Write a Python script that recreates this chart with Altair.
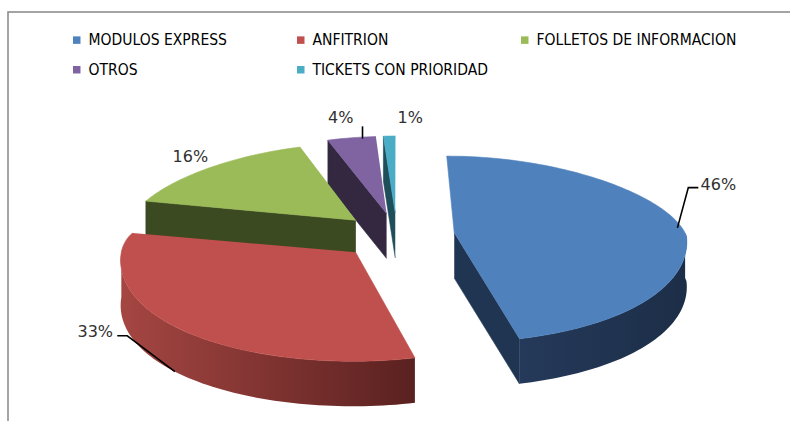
import math
import altair as alt
import pandas as pd

# ---------------- data ----------------
categories = ["MODULOS EXPRESS", "ANFITRION", "FOLLETOS DE INFORMACION", "OTROS", "TICKETS CON PRIORIDAD"]
percent = [46, 33, 16, 4, 1]
label_text = ["46%", "33%", "16%", "4%", "1%"]

# ---------------- styles ----------------
top_colors = ["#4F81BD", "#C0504D", "#9BBB59", "#8064A2", "#4BACC6"]
dark_colors = ["#1F3552", "#8E3B38", "#3C4A22", "#33283F", "#1F4E5B"]
wall_gradients = {
    0: ("#25395A", "#1C2E47"),
    1: ("#A54642", "#5A2120"),
}

# ---------------- layout (pixels) ----------------
CX, CY = 397, 236
RX, RY_BACK, RY_FRONT, RY_EXPLODE = 232, 77, 109, 92
DEPTH = 45
EXPLODE = 0.25
PERSP_BACK, PERSP_FRONT = 0.0017, 0.0006
label_angle = [61, 237, 319, 351, 3]
label_k = [1.3, 1.34, 1.08, 1.25, 1.235]
# leader: (rim angle, depth fraction, radial factor) or None
leaders = [(86, 0.0, 0.98), (227, 1.0, 1.0), None, (352.3, 0.0, 0.98), None]
draw_order = [4, 3, 2, 0, 1]  # back to front

W, H = 790, 421


def ry(a):
    return RY_BACK if math.cos(math.radians(a)) > 0 else RY_FRONT


def persp(x, y):
    if y < CY:
        s = 1 - PERSP_BACK * (CY - y)
    else:
        s = 1 + PERSP_FRONT * (y - CY)
    return CX + (x - CX) * s


def rim(apex, a, z=0.0, k=1.0, p=True):
    r = math.radians(a)
    x = apex[0] + k * RX * math.sin(r)
    y = apex[1] - k * math.cos(r) * ry(a)
    if p:
        x = persp(x, y)
    return (x, y + z)


def arc_pts(apex, a1, a2, z=0.0):
    n = max(2, int(abs(a2 - a1) / 1.5) + 2)
    return [rim(apex, a1 + (a2 - a1) * t / (n - 1), z) for t in range(n)]


total = sum(percent)
starts, ends = [], []
acc = 0.0
for v in percent:
    starts.append(acc)
    acc += v / total * 360.0
    ends.append(acc)

apexes = []
for s, e in zip(starts, ends):
    m = math.radians((s + e) / 2)
    apexes.append((CX + EXPLODE * RX * math.sin(m), CY - EXPLODE * RY_EXPLODE * math.cos(m)))

x_enc = alt.X("x:Q", scale=alt.Scale(domain=[0, W], nice=False, zero=False), axis=None)
y_enc = alt.Y("y:Q", scale=alt.Scale(domain=[0, H], nice=False, zero=False, reverse=True), axis=None)


def poly_layer(points, fill):
    df = pd.DataFrame({"i": list(range(len(points))),
                       "x": [p[0] for p in points],
                       "y": [p[1] for p in points]})
    kw = dict(filled=True, fill=fill, strokeWidth=0)
    if isinstance(fill, str):
        kw.update(stroke=fill, strokeWidth=0.6)
    return alt.Chart(df).mark_line(**kw).encode(x=x_enc, y=y_enc, order=alt.Order("i:Q"))


layers = []

# frame
frame = alt.Chart(pd.DataFrame({"a": [0]})).mark_rect(
    fillOpacity=0, stroke="#868686", strokeWidth=1.5
).encode(x=alt.value(8), x2=alt.value(820), y=alt.value(12), y2=alt.value(450))
layers.append(frame)

for idx in draw_order:
    a1, a2, A = starts[idx], ends[idx], apexes[idx]
    Ap = (persp(A[0], A[1]), A[1])
    Ab = (Ap[0], A[1] + DEPTH)
    # radial cut faces
    if math.sin(math.radians(a1)) < -1e-9:
        layers.append(poly_layer([Ap, rim(A, a1), rim(A, a1, DEPTH), Ab], dark_colors[idx]))
    if math.sin(math.radians(a2)) > 1e-9:
        layers.append(poly_layer([Ap, rim(A, a2), rim(A, a2, DEPTH), Ab], dark_colors[idx]))
    # outer wall (front half)
    b1, b2 = max(a1, 90), min(a2, 270)
    if b2 > b1:
        pts = arc_pts(A, b1, b2) + arc_pts(A, b2, b1, DEPTH)
        if idx in wall_gradients:
            c1, c2 = wall_gradients[idx]
            fill = alt.Gradient(gradient="linear",
                                stops=[alt.GradientStop(color=c1, offset=0),
                                       alt.GradientStop(color=c2, offset=1)],
                                x1=0, x2=1, y1=0, y2=0)
        else:
            fill = dark_colors[idx]
        layers.append(poly_layer(pts, fill))
    # top face
    layers.append(poly_layer([Ap] + arc_pts(A, a1, a2), top_colors[idx]))

# leader lines
lead_rows = []
for idx in range(len(categories)):
    if leaders[idx] is None:
        continue
    ang, zf, k = leaders[idx]
    A = apexes[idx]
    lx, ly = rim(A, label_angle[idx], 0, label_k[idx], p=False)
    end = rim(A, ang, zf * DEPTH, k)
    if abs(end[0] - lx) < 25:
        pts = [(end[0], ly + 8), end]
    elif end[0] < lx:
        pts = [(lx - 20, ly + 3), (lx - 30, ly + 3), end]
    else:
        pts = [(lx + 22, ly + 4), (lx + 32, ly + 4), end]
    for j, p in enumerate(pts):
        lead_rows.append({"pid": categories[idx], "i": j, "x": p[0], "y": p[1]})
leader_layer = alt.Chart(pd.DataFrame(lead_rows)).mark_line(color="#000000", strokeWidth=1.6).encode(
    x=x_enc, y=y_enc, detail="pid:N", order=alt.Order("i:Q"))
layers.append(leader_layer)

# labels
lab_rows = []
for idx in range(len(categories)):
    lx, ly = rim(apexes[idx], label_angle[idx], 0, label_k[idx], p=False)
    lab_rows.append({"x": lx, "y": ly, "text": label_text[idx]})
text_layer = alt.Chart(pd.DataFrame(lab_rows)).mark_text(
    font="DejaVu Sans", fontSize=16, color="#303030", align="center", baseline="middle"
).encode(x=x_enc, y=y_enc, text="text:N")
layers.append(text_layer)

# legend
legend_layer = alt.Chart(pd.DataFrame({"category": categories})).mark_square(opacity=0).encode(
    x=alt.value(-50), y=alt.value(-50),
    fill=alt.Fill("category:N", sort=categories,
                  scale=alt.Scale(domain=categories, range=top_colors),
                  legend=alt.Legend(title=None, orient="none", legendX=69, legendY=32,
                                    direction="horizontal", columns=3, gridAlign="all",
                                    columnPadding=4, rowPadding=13,
                                    symbolType="square", symbolSize=56, symbolStrokeWidth=0,
                                    symbolOpacity=1, labelOffset=4, labelLimit=400,
                                    labelFont="DejaVu Sans Condensed, Roboto, sans-serif",
                                    labelFontSize=15.5,
                                    labelColor="#000000")))
layers.append(legend_layer)

chart = alt.layer(*layers).properties(
    width=W, height=H, padding=0, autosize=alt.AutoSizeParams(type="none"), background="white"
).configure_view(stroke=None)

chart.save("out.html", embed_options={"renderer": "svg", "actions": False})
